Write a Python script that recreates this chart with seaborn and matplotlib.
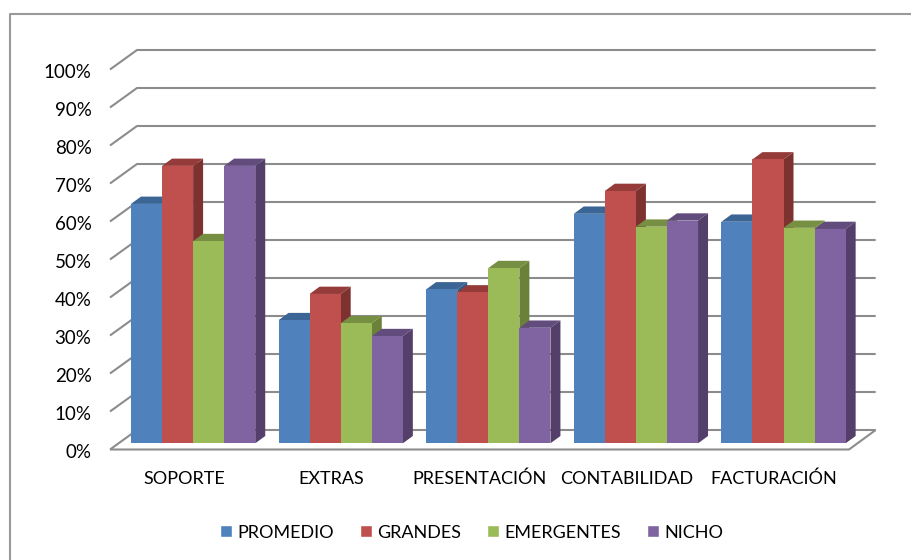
import matplotlib
matplotlib.use('Agg')
import pandas as pd
import matplotlib.pyplot as plt
import seaborn as sns
from matplotlib.lines import Line2D
from matplotlib.patches import Polygon
from matplotlib.transforms import ScaledTranslation

categories = ['SOPORTE', 'EXTRAS', 'PRESENTACIÓN', 'CONTABILIDAD', 'FACTURACIÓN']
series_names = ['PROMEDIO', 'GRANDES', 'EMERGENTES', 'NICHO']
promedio = [63, 32.4, 40.5, 60.4, 58.3]
grandes = [73, 39.3, 39.7, 66.4, 74.7]
emergentes = [53.2, 31.6, 46.1, 57, 56.7]
nicho = [73, 28.2, 30.4, 58.6, 56.4]
y_ticks = list(range(0, 101, 10))

front_colors = ['#4F81BD', '#C0504D', '#9BBB59', '#8064A2']
top_colors = ['#3B6595', '#953C3A', '#778F42', '#624C7E']
side_colors = ['#355A86', '#7D3230', '#6B8139', '#533F6A']
grid_color = '#8C8C8C'

W, H = 911, 560
AX_LEFT, AX_RIGHT, AX_BASE, AX_TOP = 119.3, 857.3, 443.3, 63.3
FLOOR_FRONT, FLOOR_BACK = 449.5, 430
PX_X = (AX_RIGHT - AX_LEFT) / 5
PX_Y = (AX_BASE - AX_TOP) / 100

df = pd.DataFrame({'categoria': categories, 'PROMEDIO': promedio, 'GRANDES': grandes,
                   'EMERGENTES': emergentes, 'NICHO': nicho})
long_df = df.melt(id_vars='categoria', var_name='serie', value_name='valor')

sns.set_style('white')
plt.rcParams['font.family'] = ['Lato', 'DejaVu Sans']

fig = plt.figure(figsize=(W / 100, H / 100), dpi=100)
# axes reach down to the front floor edge so the 0% tick stays inside the limits
ax = fig.add_axes([AX_LEFT / W, 1 - FLOOR_FRONT / H, (AX_RIGHT - AX_LEFT) / W, (FLOOR_FRONT - AX_TOP) / H])
ax.patch.set_alpha(0)

sns.barplot(data=long_df, x='categoria', y='valor', hue='serie', hue_order=series_names,
            palette=front_colors, saturation=1, width=0.842, gap=0, ax=ax, zorder=5)
sns.despine(ax=ax, left=True, bottom=True)
ax.set_xlabel('')
ax.set_ylabel('')

# floor and back wall, offset from the plot area in pixels
front_dy = (FLOOR_FRONT - AX_BASE) / PX_Y
back_dy = (AX_BASE - FLOOR_BACK) / PX_Y
x_shift = (AX_LEFT - 110) / PX_X
front_l = -0.5 - x_shift
back_l = -0.5 + (137 - AX_LEFT) / PX_X
back_r = 4.5 + (875.7 - AX_RIGHT) / PX_X
front_r = 4.5 + (849 - AX_RIGHT) / PX_X
line_kw = dict(color=grid_color, lw=1.5, clip_on=False, zorder=1, solid_capstyle='butt')
for v in y_ticks:
    ax.plot([front_l, back_l, back_r], [v - front_dy, v + back_dy, v + back_dy], **line_kw)
ax.plot([front_l, front_r, back_r], [-front_dy, -front_dy, back_dy], **line_kw)

# 3d faces for each bar, left to right so nearer bars cover the sides
depth_x = 10 / PX_X
depth_y = 7.3 / PX_Y
bars = [p for p in ax.patches if p.get_height() > 0]
for i, bar in enumerate(sorted(bars, key=lambda p: p.get_x())):
    x0, w, h = bar.get_x(), bar.get_width(), bar.get_height()
    idx = front_colors.index(matplotlib.colors.to_hex(bar.get_facecolor()).upper())
    z = 5 + i * 0.1
    ax.add_patch(Polygon([(x0, h), (x0 + depth_x, h + depth_y), (x0 + w + depth_x, h + depth_y), (x0 + w, h)],
                         fc=top_colors[idx], ec='none', clip_on=False, zorder=z))
    ax.add_patch(Polygon([(x0 + w, 0), (x0 + w + depth_x, depth_y), (x0 + w + depth_x, h + depth_y), (x0 + w, h)],
                         fc=side_colors[idx], ec='none', clip_on=False, zorder=z))
    bar.set_zorder(z + 0.05)
    bar.set_edgecolor('none')

# axis labels sit on the front edge, not on the bar base
ax.set_yticks([v - front_dy for v in y_ticks])
ax.set_yticklabels([f'{v}%' for v in y_ticks])
ax.set_xticks([i - x_shift for i in range(5)])
ax.set_xticklabels(categories, va='baseline')
ax.tick_params(axis='y', length=0, pad=20, labelsize=13.5, labelcolor='black')
ax.tick_params(axis='x', length=0, pad=24.8, labelsize=13, labelcolor='black')
ax.set_xlim(-0.5, 4.5)
ax.set_ylim(-front_dy, 100)

nudge = ScaledTranslation(0, -1.5 / 100, fig.dpi_scale_trans)
for label in ax.get_yticklabels():
    label.set_transform(label.get_transform() + nudge)

handles, labels = ax.get_legend_handles_labels()
ax.legend(handles, labels, loc='center', bbox_to_anchor=(471.5 / W, 1 - 532.5 / H),
          bbox_transform=fig.transFigure, ncol=4, frameon=False, fontsize=13,
          handlelength=0.68, handleheight=0.68, handletextpad=0.3, columnspacing=1.41,
          borderpad=0, labelcolor='black')

# chart frame, only top and left edges show in the crop
frame_kw = dict(color='#999999', lw=1.5, transform=fig.transFigure, solid_capstyle='butt')
fig.add_artist(Line2D([1, 9.5 / W, 9.5 / W], [1 - 13.5 / H, 1 - 13.5 / H, 0], **frame_kw))

fig.savefig('out.png', dpi=100)
plt.close(fig)
